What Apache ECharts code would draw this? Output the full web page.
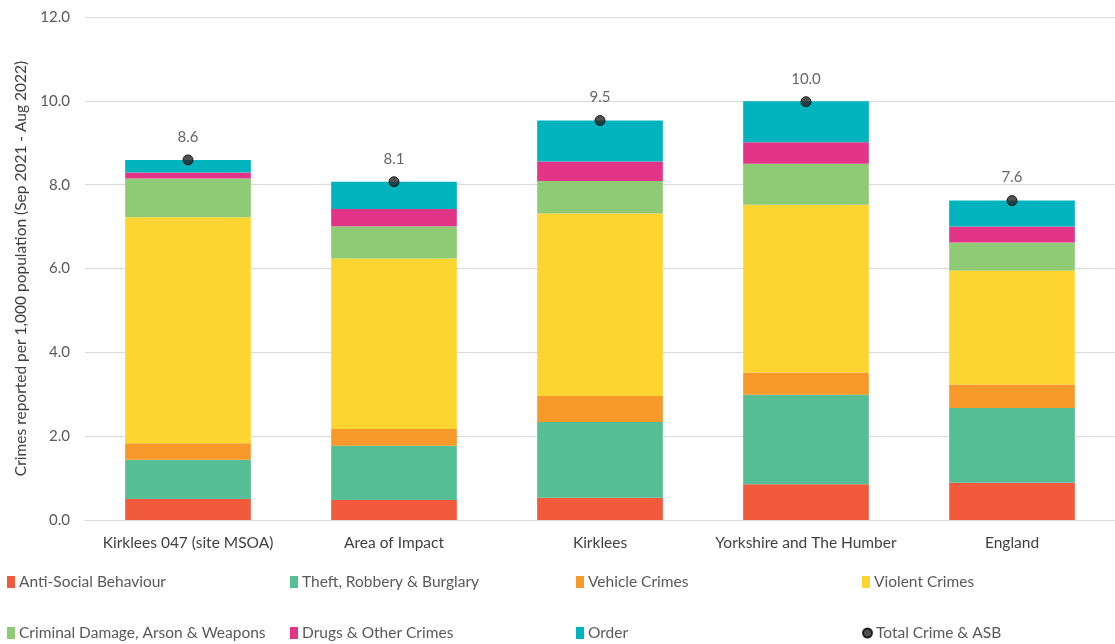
<!DOCTYPE html>
<html><head><meta charset="utf-8">
<script src="https://cdn.jsdelivr.net/npm/echarts@6/dist/echarts.min.js"></script>
<style>html,body{margin:0;padding:0;background:#fff}#c{width:1115px;height:644px}</style>
</head><body><div id="c"></div>
<script>
const categories = ["Kirklees 047 (site MSOA)", "Area of Impact", "Kirklees", "Yorkshire and The Humber", "England"];
const asb      = [0.50, 0.48, 0.53, 0.85, 0.89];
const theft    = [0.94, 1.29, 1.81, 2.14, 1.78];
const vehicle  = [0.39, 0.40, 0.62, 0.53, 0.56];
const violent  = [5.39, 4.07, 4.35, 4.00, 2.72];
const damage   = [0.93, 0.77, 0.78, 0.98, 0.67];
const drugs    = [0.14, 0.41, 0.46, 0.51, 0.38];
const order    = [0.30, 0.65, 0.98, 0.98, 0.62];
const totals   = [8.59, 8.07, 9.53, 9.98, 7.62];
const yTicks = [0, 2, 4, 6, 8, 10, 12];

const seriesDefs = [
  {name: "Anti-Social Behaviour", data: asb, color: "#F15A3A"},
  {name: "Theft, Robbery & Burglary", data: theft, color: "#55BE94"},
  {name: "Vehicle Crimes", data: vehicle, color: "#F7992A"},
  {name: "Violent Crimes", data: violent, color: "#FED530"},
  {name: "Criminal Damage, Arson & Weapons", data: damage, color: "#8FCA74"},
  {name: "Drugs & Other Crimes", data: drugs, color: "#E33588"},
  {name: "Order", data: order, color: "#00B4BE"}
];
const FONT = "Lato";
const series = seriesDefs.map(s => ({
  name: s.name, type: "bar", stack: "t", data: s.data, barWidth: "61%",
  itemStyle: {color: s.color}, emphasis: {disabled: true}
}));
series.push({
  name: "Total Crime & ASB", type: "scatter", data: totals, symbolSize: 10,
  itemStyle: {color: "#262626", borderColor: "#000", borderWidth: 1},
  label: {show: true, position: "top", distance: 10, fontFamily: FONT, fontSize: 15, color: "#404040",
    formatter: p => p.value.toFixed(1)},
  z: 5
});
const legendPos = [
  [7, 574], [290, 574], [576, 574], [862, 574],
  [7, 625], [290, 625], [576, 625], [862, 625]
];
const legNames = seriesDefs.map(s => s.name).concat(["Total Crime & ASB"]);
const legends = legNames.map((n, i) => ({
  data: [n], left: legendPos[i][0], top: legendPos[i][1], itemWidth: 8, itemHeight: 12, itemGap: 0,
  icon: i === 7 ? "circle" : "rect", padding: 0,
  textStyle: {fontFamily: FONT, fontSize: 15.5, color: "#595959", padding: [0, 0, 0, -1]},
  selectedMode: false
}));
legends[7].itemWidth = 9; legends[7].itemHeight = 11;

const chart = echarts.init(document.getElementById("c"));
chart.setOption({
  animation: false,
  grid: {left: 85, right: 0, top: 17, bottom: 124, containLabel: false},
  legend: legends,
  xAxis: {type: "category", data: categories,
    axisLine: {lineStyle: {color: "#d9d9d9"}}, axisTick: {show: false},
    axisLabel: {interval: 0, fontFamily: FONT, fontSize: 15.5, color: "#404040", margin: 15}},
  yAxis: {type: "value", min: 0, max: 12, interval: 2,
    name: "Crimes reported per 1,000 population (Sep 2021 - Aug 2022)", nameLocation: "middle", nameGap: 55,
    nameTextStyle: {fontFamily: FONT, fontSize: 15.5, color: "#404040"},
    axisLabel: {fontFamily: FONT, fontSize: 15, color: "#595959", margin: 15, formatter: v => yTicks.includes(v) ? v.toFixed(1) : ""},
    splitLine: {lineStyle: {color: "#d9d9d9"}}},
  series: series
});
</script></body></html>
